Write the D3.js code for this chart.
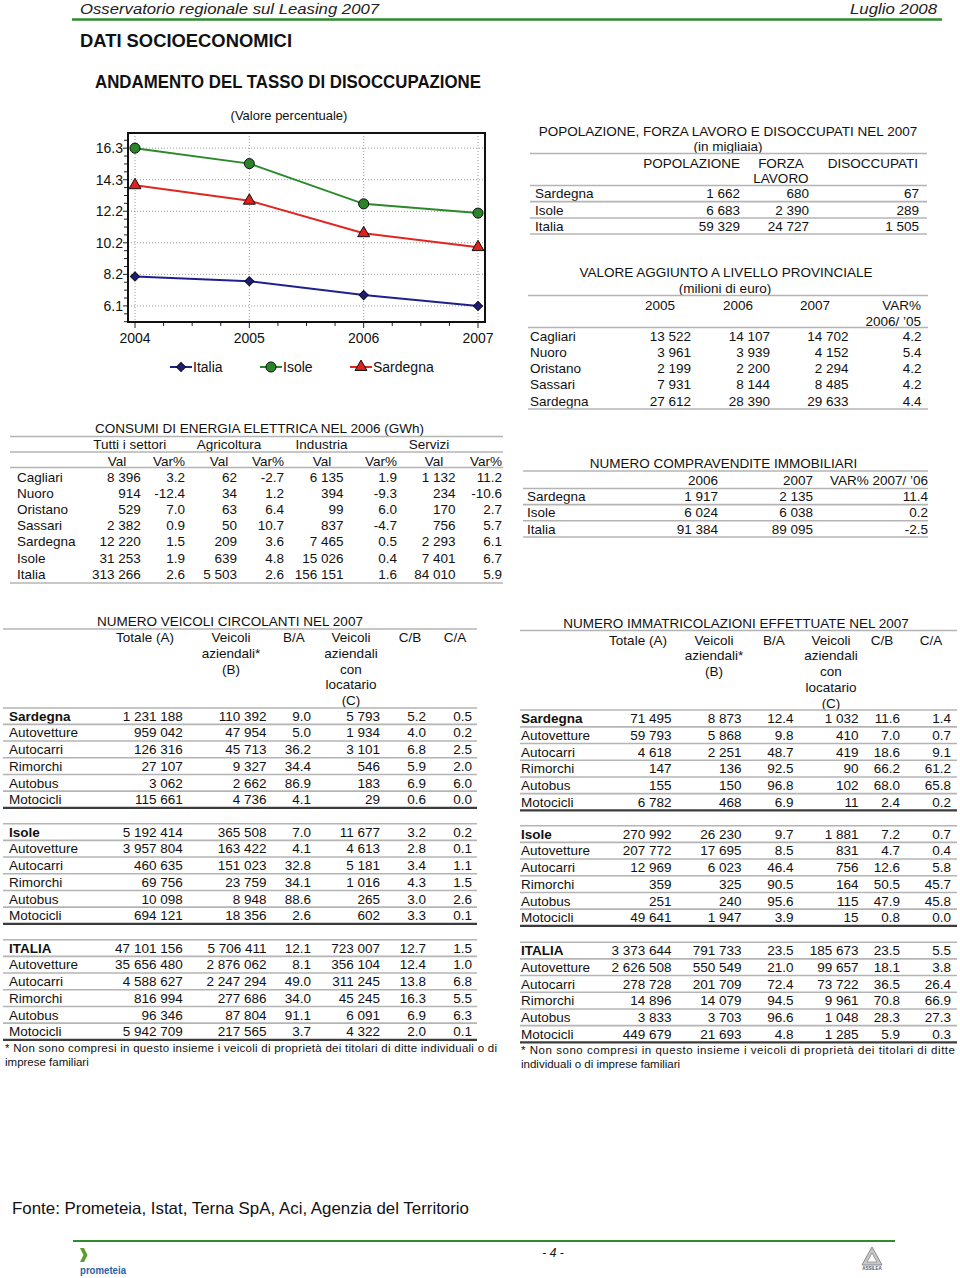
<!DOCTYPE html>
<html><head><meta charset="utf-8">
<script src="https://cdn.jsdelivr.net/npm/d3@7"></script>
<style>
body{margin:0;background:#fff}
svg{display:block}
text{font-family:"Liberation Sans",Arial,Helvetica,sans-serif;fill:#111}
</style>
</head><body>
<svg id="c" width="960" height="1278"></svg>
<script>
// ---------------- DATA ----------------
const years = [2004, 2005, 2006, 2007];
const italia = [8.0, 7.7, 6.8, 6.1];
const isole = [16.3, 15.3, 12.7, 12.1];
const sardegna = [13.9, 12.9, 10.8, 9.9];
const yTickValues = [6.1, 8.14, 10.18, 12.22, 14.26, 16.3];
const yTickLabels = ["6.1", "8.2", "10.2", "12.2", "14.3", "16.3"];

const popAreas = ["Sardegna", "Isole", "Italia"];
const popPopolazione = [1662, 6683, 59329];
const popForza = [680, 2390, 24727];
const popDisoccupati = [67, 289, 1505];

const vaAreas = ["Cagliari", "Nuoro", "Oristano", "Sassari", "Sardegna"];
const va2005 = [13522, 3961, 2199, 7931, 27612];
const va2006 = [14107, 3939, 2200, 8144, 28390];
const va2007 = [14702, 4152, 2294, 8485, 29633];
const vaVar = [4.2, 5.4, 4.2, 4.2, 4.4];

const enAreas = ["Cagliari", "Nuoro", "Oristano", "Sassari", "Sardegna", "Isole", "Italia"];
const enTotVal = [8396, 914, 529, 2382, 12220, 31253, 313266];
const enTotVar = [3.2, -12.4, 7.0, 0.9, 1.5, 1.9, 2.6];
const enAgrVal = [62, 34, 63, 50, 209, 639, 5503];
const enAgrVar = [-2.7, 1.2, 6.4, 10.7, 3.6, 4.8, 2.6];
const enIndVal = [6135, 394, 99, 837, 7465, 15026, 156151];
const enIndVar = [1.9, -9.3, 6.0, -4.7, 0.5, 0.4, 1.6];
const enSerVal = [1132, 234, 170, 756, 2293, 7401, 84010];
const enSerVar = [11.2, -10.6, 2.7, 5.7, 6.1, 6.7, 5.9];

const cvAreas = ["Sardegna", "Isole", "Italia"];
const cv2006 = [1917, 6024, 91384];
const cv2007 = [2135, 6038, 89095];
const cvVar = [11.4, 0.2, -2.5];

const vehGroups = ["Sardegna", "Isole", "ITALIA"];
const vehTypes = ["Autovetture", "Autocarri", "Rimorchi", "Autobus", "Motocicli"];

const circTotale = [[1231188, 959042, 126316, 27107, 3062, 115661], [5192414, 3957804, 460635, 69756, 10098, 694121], [47101156, 35656480, 4588627, 816994, 96346, 5942709]];
const circAziendali = [[110392, 47954, 45713, 9327, 2662, 4736], [365508, 163422, 151023, 23759, 8948, 18356], [5706411, 2876062, 2247294, 277686, 87804, 217565]];
const circBA = [[9.0, 5.0, 36.2, 34.4, 86.9, 4.1], [7.0, 4.1, 32.8, 34.1, 88.6, 2.6], [12.1, 8.1, 49.0, 34.0, 91.1, 3.7]];
const circLocatario = [[5793, 1934, 3101, 546, 183, 29], [11677, 4613, 5181, 1016, 265, 602], [723007, 356104, 311245, 45245, 6091, 4322]];
const circCB = [[5.2, 4.0, 6.8, 5.9, 6.9, 0.6], [3.2, 2.8, 3.4, 4.3, 3.0, 3.3], [12.7, 12.4, 13.8, 16.3, 6.9, 2.0]];
const circCA = [[0.5, 0.2, 2.5, 2.0, 6.0, 0.0], [0.2, 0.1, 1.1, 1.5, 2.6, 0.1], [1.5, 1.0, 6.8, 5.5, 6.3, 0.1]];

const immTotale = [[71495, 59793, 4618, 147, 155, 6782], [270992, 207772, 12969, 359, 251, 49641], [3373644, 2626508, 278728, 14896, 3833, 449679]];
const immAziendali = [[8873, 5868, 2251, 136, 150, 468], [26230, 17695, 6023, 325, 240, 1947], [791733, 550549, 201709, 14079, 3703, 21693]];
const immBA = [[12.4, 9.8, 48.7, 92.5, 96.8, 6.9], [9.7, 8.5, 46.4, 90.5, 95.6, 3.9], [23.5, 21.0, 72.4, 94.5, 96.6, 4.8]];
const immLocatario = [[1032, 410, 419, 90, 102, 11], [1881, 831, 756, 164, 115, 15], [185673, 99657, 73722, 9961, 1048, 1285]];
const immCB = [[11.6, 7.0, 18.6, 66.2, 68.0, 2.4], [7.2, 4.7, 12.6, 50.5, 47.9, 0.8], [23.5, 18.1, 36.5, 70.8, 28.3, 5.9]];
const immCA = [[1.4, 0.7, 9.1, 61.2, 65.8, 0.2], [0.7, 0.4, 5.8, 45.7, 45.8, 0.0], [5.5, 3.8, 26.4, 66.9, 27.3, 0.3]];

const footnote1 = "* Non sono compresi in questo insieme i veicoli di proprietà dei titolari di ditte individuali o di";
const footnote2 = "imprese familiari";
const footnoteR1 = "* Non sono compresi in questo insieme i veicoli di proprietà dei titolari di ditte";
const footnoteR2 = "individuali o di imprese familiari";

// ---------------- HELPERS ----------------
const svg = d3.select("#c");
svg.append("rect").attr("width", 960).attr("height", 1278).attr("fill", "#fff");
const loc = d3.formatLocale({decimal: ".", thousands: " ", grouping: [3], currency: ["", ""], minus: "-"});
const fInt = loc.format(",d");
const fDec = loc.format(".1f");
const GREY = "#b4b4b4", DARK = "#3c3c3c", GREEN = "#2e8b2e";

function T(x, y, s, o = {}) {
  const t = svg.append("text").attr("x", x).attr("y", y).attr("dy", "0.35em").text(s)
    .style("font-size", (o.size || 13.5) + "px");
  if (o.anchor) t.attr("text-anchor", o.anchor);
  if (o.weight) t.style("font-weight", o.weight);
  if (o.style) t.style("font-style", o.style);
  if (o.fill) t.style("fill", o.fill);
  if (o.len) t.attr("textLength", o.len).attr("lengthAdjust", o.adjust || "spacingAndGlyphs");
  return t;
}
function L(x1, x2, y, o = {}) {
  svg.append("line").attr("x1", x1).attr("x2", x2).attr("y1", y).attr("y2", y)
    .attr("stroke", o.color || GREY).attr("stroke-width", o.w || 1.6);
}
function rows(labels, y0, step, labelX, cols, o = {}) {
  const y = d3.scaleLinear().domain([0, labels.length - 1]).range([y0, y0 + step * (labels.length - 1)]);
  labels.forEach((lab, i) => {
    T(labelX, y(i), lab, {weight: (o.boldFirst && i === 0) ? "bold" : null});
    cols.forEach(c => T(c.x, y(i), c.fmt(c.values[i]), {anchor: "end"}));
  });
  if (o.sep) {
    for (let i = 0; i < labels.length - 1; i++) L(o.sep[0], o.sep[1], y(i) + step / 2);
  }
  return y;
}

// ---------------- PAGE HEADER ----------------
T(80, 8.5, "Osservatorio regionale sul Leasing 2007", {size: 15.5, style: "italic", len: 299, fill: "#222"});
T(850, 8.5, "Luglio 2008", {size: 15.5, style: "italic", len: 87, fill: "#222"});
L(72, 942, 19.5, {color: GREEN, w: 2.5});
T(80, 41, "DATI SOCIOECONOMICI", {size: 17.5, weight: "bold", len: 212});
T(95, 82, "ANDAMENTO DEL TASSO DI DISOCCUPAZIONE", {size: 17.5, weight: "bold", len: 386});

// ---------------- LINE CHART ----------------
const fx0 = 128, fx1 = 485, fy0 = 133, fy1 = 322;
const x = d3.scaleLinear().domain([2004, 2007]).range([135, 478]);
const y = d3.scaleLinear().domain([5.06, 17.28]).range([fy1, fy0]);
T(289, 115, "(Valore percentuale)", {size: 13, anchor: "middle"});
const chart = svg.append("g");
// grid
yTickValues.forEach(v => chart.append("line").attr("x1", fx0).attr("x2", fx1).attr("y1", y(v)).attr("y2", y(v))
  .attr("stroke", "#999").attr("stroke-width", 1).attr("stroke-dasharray", "1,2"));
years.forEach(v => chart.append("line").attr("x1", x(v)).attr("x2", x(v)).attr("y1", fy0).attr("y2", fy1)
  .attr("stroke", "#999").attr("stroke-width", 1).attr("stroke-dasharray", "1,2"));
// ticks
const yStep = (yTickValues[1] - yTickValues[0]) / 4;
for (let k = -2; k <= 22; k++) {
  const v = yTickValues[0] + k * yStep;
  if (v < y.domain()[0] || v > y.domain()[1]) continue;
  const len = k % 4 === 0 ? 5 : 4;
  chart.append("line").attr("x1", fx0 - len).attr("x2", fx0).attr("y1", y(v)).attr("y2", y(v)).attr("stroke", "#222").attr("stroke-width", 1);
}
for (let k = 0; k <= 12; k++) {
  const v = 2004 + k * 0.25;
  const len = k % 4 === 0 ? 6 : 4;
  chart.append("line").attr("x1", x(v)).attr("x2", x(v)).attr("y1", fy1).attr("y2", fy1 + len).attr("stroke", "#222").attr("stroke-width", 1);
}
chart.append("rect").attr("x", fx0).attr("y", fy0).attr("width", fx1 - fx0).attr("height", fy1 - fy0)
  .attr("fill", "none").attr("stroke", "#111").attr("stroke-width", 2);
yTickValues.forEach((v, i) => T(123, y(v), yTickLabels[i], {size: 14, anchor: "end"}));
years.forEach(v => T(x(v), 338, String(v), {size: 14, anchor: "middle"}));

const series = [
  {name: "Italia", values: italia, line: "#20208c", fill: "#1c1c80", sym: d3.symbolSquare, size: 42, rot: 45, lx: 170},
  {name: "Isole", values: isole, line: "#2a8a2a", fill: "#2a852a", sym: d3.symbolCircle, size: 80, rot: 0, lx: 260},
  {name: "Sardegna", values: sardegna, line: "#e0261e", fill: "#e0201c", sym: d3.symbolTriangle, size: 62, rot: 0, lx: 350}
];
const lineGen = d3.line().x((d, i) => x(years[i])).y(d => y(d));
series.forEach(s => {
  chart.append("path").attr("d", lineGen(s.values)).attr("fill", "none").attr("stroke", s.line).attr("stroke-width", 2);
  const sym = d3.symbol().type(s.sym).size(s.size);
  s.values.forEach((v, i) => chart.append("path").attr("d", sym())
    .attr("transform", `translate(${x(years[i])},${y(v)}) rotate(${s.rot})`)
    .attr("fill", s.fill).attr("stroke", "#111").attr("stroke-width", 1));
  // legend
  const ly = 367;
  chart.append("line").attr("x1", s.lx).attr("x2", s.lx + 22).attr("y1", ly).attr("y2", ly).attr("stroke", s.line).attr("stroke-width", 2);
  chart.append("path").attr("d", sym()).attr("transform", `translate(${s.lx + 11},${ly}) rotate(${s.rot})`)
    .attr("fill", s.fill).attr("stroke", "#111").attr("stroke-width", 1);
  T(s.lx + 23, ly, s.name, {size: 14});
});

// ---------------- POPOLAZIONE TABLE ----------------
T(728, 131, "POPOLAZIONE, FORZA LAVORO E DISOCCUPATI NEL 2007", {anchor: "middle"});
T(728, 146, "(in migliaia)", {anchor: "middle"});
L(530, 927, 153.5);
T(740, 163, "POPOLAZIONE", {anchor: "end"});
T(781, 163, "FORZA", {anchor: "middle"});
T(781, 178, "LAVORO", {anchor: "middle"});
T(918, 163, "DISOCCUPATI", {anchor: "end"});
L(530, 927, 185.5);
rows(popAreas, 193.5, 16.3, 535, [
  {x: 740, values: popPopolazione, fmt: fInt},
  {x: 809, values: popForza, fmt: fInt},
  {x: 919, values: popDisoccupati, fmt: fInt}
], {sep: [530, 927]});
L(530, 927, 234);

// ---------------- VALORE AGGIUNTO TABLE ----------------
T(726, 272, "VALORE AGGIUNTO A LIVELLO PROVINCIALE", {anchor: "middle"});
T(725, 288, "(milioni di euro)", {anchor: "middle"});
L(528, 928, 295.5);
T(660, 305, "2005", {anchor: "middle"});
T(738, 305, "2006", {anchor: "middle"});
T(815, 305, "2007", {anchor: "middle"});
T(921, 305, "VAR%", {anchor: "end"});
T(921, 321, "2006/ \u201905", {anchor: "end"});
L(528, 928, 327.5);
rows(vaAreas, 336, 16.2, 530, [
  {x: 691, values: va2005, fmt: fInt},
  {x: 770, values: va2006, fmt: fInt},
  {x: 848.5, values: va2007, fmt: fInt},
  {x: 921.5, values: vaVar, fmt: fDec}
]);
L(528, 928, 409);

// ---------------- CONSUMI TABLE ----------------
T(259.5, 428, "CONSUMI DI ENERGIA ELETTRICA NEL 2006 (GWh)", {anchor: "middle"});
L(10, 503, 436.5);
T(129.7, 444, "Tutti i settori", {anchor: "middle"});
T(229, 444, "Agricoltura", {anchor: "middle"});
T(321.5, 444, "Industria", {anchor: "middle"});
T(429, 444, "Servizi", {anchor: "middle"});
L(10, 503, 452);
const valX = [117, 219, 322, 434], varX = [185, 284, 397, 502];
valX.forEach(v => T(v, 461, "Val", {anchor: "middle"}));
varX.forEach(v => T(v, 461, "Var%", {anchor: "end"}));
L(10, 503, 467.5);
rows(enAreas, 477.3, 16.1, 17, [
  {x: 140.7, values: enTotVal, fmt: fInt},
  {x: 185, values: enTotVar, fmt: fDec},
  {x: 237, values: enAgrVal, fmt: fInt},
  {x: 284, values: enAgrVar, fmt: fDec},
  {x: 343.5, values: enIndVal, fmt: fInt},
  {x: 397, values: enIndVar, fmt: fDec},
  {x: 455.5, values: enSerVal, fmt: fInt},
  {x: 502, values: enSerVar, fmt: fDec}
]);
L(10, 503, 583);

// ---------------- COMPRAVENDITE TABLE ----------------
T(723.5, 463.5, "NUMERO COMPRAVENDITE IMMOBILIARI", {anchor: "middle"});
L(523, 928, 471);
T(718, 480.5, "2006", {anchor: "end"});
T(813, 480.5, "2007", {anchor: "end"});
T(928, 480.5, "VAR% 2007/ \u201906", {anchor: "end"});
L(523, 928, 488.5);
rows(cvAreas, 496.5, 16.2, 527, [
  {x: 718, values: cv2006, fmt: fInt},
  {x: 813, values: cv2007, fmt: fInt},
  {x: 928, values: cvVar, fmt: fDec}
], {sep: [523, 928]});
L(523, 928, 537);

// ---------------- VEHICLE TABLES ----------------
function vehTable(cfg) {
  T(cfg.titleX, cfg.titleY, cfg.title, {anchor: "middle"});
  L(cfg.x1, cfg.x2, cfg.titleY + 7.5);
  const hy = d3.scaleLinear().domain([0, 4]).range([cfg.headY, cfg.headY + 4 * 15.75]);
  const heads = [["Totale (A)"], ["Veicoli", "aziendali*", "(B)"], ["B/A"], ["Veicoli", "aziendali", "con", "locatario", "(C)"], ["C/B"], ["C/A"]];
  heads.forEach((h, j) => h.forEach((s, k) => T(cfg.headX[j], hy(k), s, {anchor: "middle"})));
  L(cfg.x1, cfg.x2, cfg.headLineY);
  vehGroups.forEach((g, gi) => {
    const y0 = cfg.groupY[gi];
    if (gi > 0) L(cfg.x1, cfg.x2, y0 - 8.3);
    const cols = [cfg.totale, cfg.aziendali, cfg.ba, cfg.locatario, cfg.cb, cfg.ca].map((arr, j) => ({
      x: cfg.colX[j], values: arr[gi], fmt: (j === 2 || j === 4 || j === 5) ? fDec : fInt
    }));
    rows([g].concat(vehTypes), y0, 16.7, cfg.labelX, cols, {boldFirst: true, sep: [cfg.x1, cfg.x2]});
    L(cfg.x1, cfg.x2, y0 + 5 * 16.7 + 8.4, {color: DARK, w: 2.4});
  });
  const last = cfg.groupY[2] + 5 * 16.7 + 8.4;
  T(cfg.noteX, last + 8, cfg.note1, {size: 11.5, len: cfg.noteLen, adjust: "spacing"});
  T(cfg.noteX, last + 22, cfg.note2, {size: 11.5});
}
vehTable({
  title: "NUMERO VEICOLI CIRCOLANTI NEL 2007", titleX: 230, titleY: 621.5, x1: 3, x2: 477,
  headY: 637.5, headX: [145, 231, 294, 351, 410, 455], headLineY: 708,
  groupY: [716, 832, 948], labelX: 9, colX: [182.7, 266.5, 311, 380, 426, 472],
  totale: circTotale, aziendali: circAziendali, ba: circBA, locatario: circLocatario, cb: circCB, ca: circCA,
  noteX: 5, noteLen: 492, note1: footnote1, note2: footnote2
});
vehTable({
  title: "NUMERO IMMATRICOLAZIONI EFFETTUATE NEL 2007", titleX: 736, titleY: 623, x1: 520, x2: 957,
  headY: 640, headX: [638, 714, 774, 831, 882, 931], headLineY: 710,
  groupY: [718.5, 834, 950.5], labelX: 521, colX: [671.5, 741.5, 793.5, 858.5, 900, 951],
  totale: immTotale, aziendali: immAziendali, ba: immBA, locatario: immLocatario, cb: immCB, ca: immCA,
  noteX: 521, noteLen: 434, note1: footnoteR1, note2: footnoteR2
});

// ---------------- FOOTER ----------------
T(12, 1208, "Fonte: Prometeia, Istat, Terna SpA, Aci, Agenzia del Territorio", {size: 16.5, len: 457});
L(73, 895, 1241, {color: GREEN, w: 2.2});
T(553, 1253, "- 4 -", {size: 12, anchor: "middle", style: "italic"});
svg.append("path").attr("d", "M80,1248 L84,1248 L87.5,1255 L84,1262 L80,1262 L83.5,1255 Z").attr("fill", "#5a9e2a");
T(80, 1270, "prometeia", {size: 10, len: 46, fill: "#2a5fa8", weight: "bold"});
svg.append("path").attr("d", "M872,1247 L882,1265 L862,1265 Z").attr("fill", "#c8c8c8").attr("stroke", "#8a8a8a").attr("stroke-width", 1);
svg.append("path").attr("d", "M872,1253 L877,1262 L867,1262 Z").attr("fill", "#fff").attr("stroke", "#8a8a8a").attr("stroke-width", 0.8);
T(872, 1268, "ASSILEA", {size: 4.5, anchor: "middle", fill: "#555", weight: "bold"});
</script>
</body></html>
